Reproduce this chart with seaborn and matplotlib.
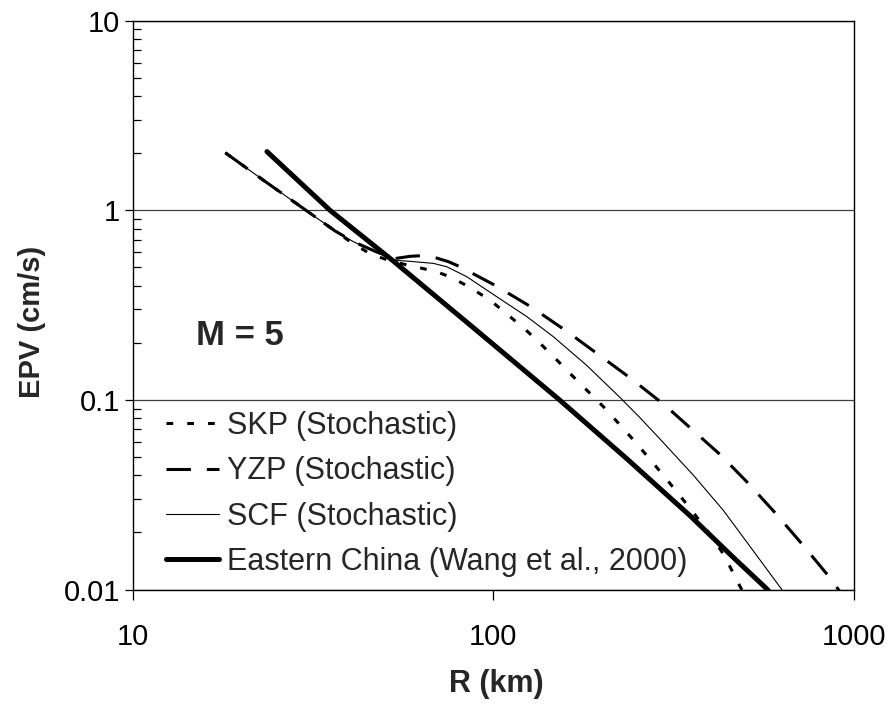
import numpy as np
import pandas as pd
import matplotlib
matplotlib.use("Agg")
import matplotlib.pyplot as plt
import seaborn as sns
from matplotlib.ticker import LogLocator, NullLocator, FixedLocator, FixedFormatter

# ---------------- data ----------------
skp_r = [18.1, 23.0, 29.1, 36.4, 41.0, 46.0, 52.9, 60.8, 69.8, 76.8, 86.3, 98.1, 109.2,
         122.7, 135.0, 151.0, 167.0, 204.5, 247.7, 298.0, 352.0, 408.0, 441.0, 474.0, 500.0]
skp_epv = [2.01, 1.447, 1.055, 0.78, 0.665, 0.585, 0.535, 0.504, 0.474, 0.442, 0.392, 0.336, 0.284,
           0.236, 0.199, 0.161, 0.1325, 0.0903, 0.0602, 0.0397, 0.0268, 0.0186, 0.0148, 0.0112, 0.0093]

yzp_r = [18.1, 23.0, 29.1, 36.4, 41.0, 46.0, 52.9, 58.9, 63.0, 68.5, 75.2, 81.0, 101.8,
         127.3, 159.2, 198.1, 242.2, 300.6, 427.0, 510.8, 605.8, 718.4, 850.0, 915.0]
yzp_epv = [2.01, 1.447, 1.055, 0.78, 0.683, 0.62, 0.555, 0.572, 0.576, 0.566, 0.536, 0.504, 0.400,
           0.310, 0.232, 0.171, 0.129, 0.0933, 0.0514, 0.0363, 0.0254, 0.01745, 0.01185, 0.0098]

scf_r = [18.1, 23.0, 29.1, 36.4, 41.0, 46.0, 52.9, 57.6, 68.3, 74.4, 84.5, 96.0, 109.2,
         124.1, 147.0, 182.0, 225.0, 255.7, 290.5, 359.0, 435.0, 516.0, 640.0]
scf_epv = [2.01, 1.447, 1.055, 0.78, 0.683, 0.617, 0.545, 0.540, 0.525, 0.504, 0.447, 0.380, 0.323,
           0.275, 0.2155, 0.152, 0.103, 0.0805, 0.0622, 0.0402, 0.0262, 0.0169, 0.0097]

ec_r = [23.6, 35.3, 52.9, 89.7, 153.5, 234.9, 352.0, 460.0, 574.0, 585.0]
ec_epv = [2.04, 1.0, 0.540, 0.234, 0.0994, 0.049, 0.0245, 0.0150, 0.0101, 0.0097]

labels = ["SKP (Stochastic)", "YZP (Stochastic)", "SCF (Stochastic)",
          "Eastern China (Wang et al., 2000)"]
x_ticks = [10, 100, 1000]
x_ticklabels = ["10", "100", "1000"]
y_ticks = [0.01, 0.1, 1, 10]
y_ticklabels = ["0.01", "0.1", "1", "10"]

# ---------------- style ----------------
sns.set_theme(style="ticks")
plt.rcParams["font.family"] = ["Liberation Sans", "DejaVu Sans"]

fig = plt.figure(figsize=(8.96, 7.04), dpi=100)
ax = fig.add_axes([0.1479, 0.1626, 0.8047, 0.8080])

series = [
    (skp_r, skp_epv, labels[0], 2.2, (0, (2.2, 4.6))),
    (yzp_r, yzp_epv, labels[1], 2.2, (0, (8.0, 5.2))),
    (scf_r, scf_epv, labels[2], 0.8, "-"),
    (ec_r, ec_epv, labels[3], 3.6, "-"),
]
for r, e, name, lw, ls in series:
    df = pd.DataFrame({"R": r, "EPV": e})
    sns.lineplot(data=df, x="R", y="EPV", ax=ax, color="black", linewidth=lw,
                 linestyle=ls, label=name, estimator=None, sort=False)

ax.set_xscale("log")
ax.set_yscale("log")
ax.set_xlim(10, 1000)
ax.set_ylim(0.01, 10)

ax.xaxis.set_major_locator(FixedLocator(x_ticks))
ax.xaxis.set_major_formatter(FixedFormatter(x_ticklabels))
ax.xaxis.set_minor_locator(NullLocator())
ax.yaxis.set_major_locator(FixedLocator(y_ticks))
ax.yaxis.set_major_formatter(FixedFormatter(y_ticklabels))
ax.yaxis.set_minor_locator(LogLocator(base=10, subs=np.arange(2, 10)))

ax.tick_params(axis="both", which="major", direction="out", width=0.9,
               colors="black", labelsize=21)
ax.tick_params(axis="x", which="major", length=7, pad=17)
ax.tick_params(axis="y", which="major", length=6, pad=3)
ax.tick_params(axis="y", which="minor", direction="in", length=6, width=0.9,
               colors="black")

ax.yaxis.grid(True, which="major", color="#404040", linewidth=0.9)
ax.xaxis.grid(False)
for s in ax.spines.values():
    s.set_visible(True)
    s.set_color("black")
    s.set_linewidth(1.0)

ax.set_xlabel("R (km)", fontsize=22, fontweight="bold")
ax.set_ylabel("EPV (cm/s)", fontsize=21, fontweight="bold")
ax.xaxis.set_label_coords(0.505, -0.14)
ax.yaxis.set_label_coords(-0.12, 0.47)

ax.text(0.088, 0.446, "M = 5", transform=ax.transAxes, fontsize=25,
        fontweight="bold", va="center", ha="left")

ax.legend(loc="lower left", bbox_to_anchor=(0.046, 0.022), frameon=False,
          fontsize=22, handlelength=1.73, handletextpad=0.28, labelspacing=0.5,
          borderpad=0, borderaxespad=0)

fig.savefig("out.png", dpi=100)
